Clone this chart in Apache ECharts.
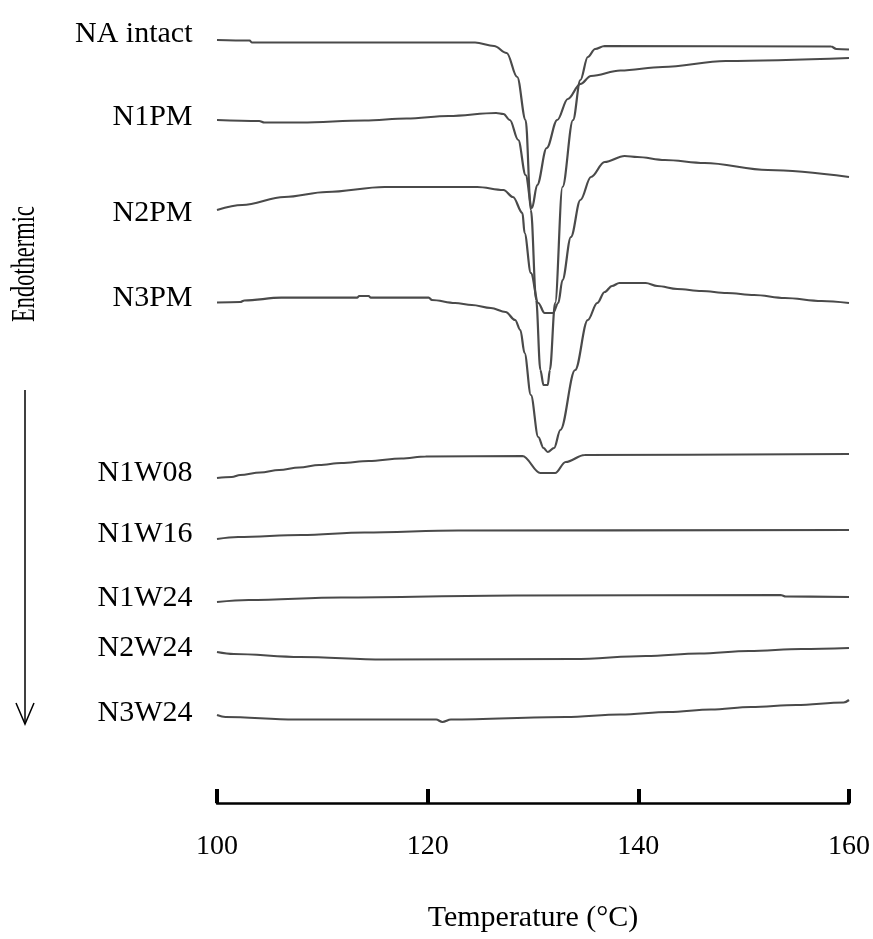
<!DOCTYPE html>
<html>
<head>
<meta charset="utf-8">
<script src="https://cdn.jsdelivr.net/npm/echarts@6/dist/echarts.min.js"></script>
<style>
html,body{margin:0;padding:0;background:#fff;overflow:hidden;}
#chart{width:873px;height:939px;}
</style>
</head>
<body>
<div id="chart"></div>
<script>
// Temperature (°C) vs offset heat-flow signal (arbitrary units, endothermic downward)
const xTicks = [100, 120, 140, 160];
const seriesNames = ['NA intact','N1PM','N2PM','N3PM','N1W08','N1W16','N1W24','N2W24','N3W24'];

const naIntact = [[100,40],[103.1,40.5],[103.3,42.5],[124.5,42.5],[126.3,46],[127.5,53],[128.5,77],[129.3,120],[129.8,210],[130.3,300],[130.7,370],[131.0,385],[131.4,385],[131.6,370],[132.1,303],[132.8,187],[133.8,120],[134.5,80],[135.2,57],[135.9,49],[136.8,46],[158.3,46.5],[158.8,49],[160,49.5]];
const n1pm = [[100,120],[104,121],[104.5,122.5],[108,122.5],[114,120.5],[118,118.5],[122,116],[126.5,113],[127.2,114],[127.8,120],[128.6,140],[129.3,175],[129.9,208],[130.4,185],[131.3,148],[132.3,120],[133.3,99],[134.5,84],[135.5,76],[138.3,70.5],[142.3,67],[148.3,61],[160,58]];
const n2pm = [[100,210],[102.4,205],[106.4,197],[110.4,192],[115.9,187],[124.7,187],[127.2,190],[128.1,197],[129.0,213],[129.2,233],[129.8,273],[130.5,303],[131.1,313],[131.9,313],[132.4,303],[132.8,280],[133.6,237],[134.5,200],[135.5,177],[136.8,162],[138.7,156],[139.9,157],[142.5,160],[146.3,163],[152.3,170],[160,177]];
const n3pm = [[100,302.5],[102.2,302],[102.6,300.5],[106.1,297.7],[113.3,297.7],[113.5,296],[114.4,296],[114.6,297.7],[120.1,297.7],[120.4,300],[122.6,303],[124.2,305],[126.0,308],[127.4,312],[128.3,320],[128.8,330],[129.2,353],[129.8,395],[130.5,437],[131.0,448],[131.4,452],[132.0,448],[132.6,430],[134.0,370],[135.2,320],[136.1,303],[136.8,292],[137.5,286],[138.2,283],[140.7,283],[141.8,286],[143.7,289],[146.0,291],[148.4,293],[151.0,295],[153.9,298],[157.4,301],[160,303]];
const n1w08 = [[100,478],[101.4,477],[102.2,475],[104.1,472.5],[105.9,470],[107.8,467.5],[109.7,465],[111.8,463],[114.4,461],[117.5,458.5],[119.8,456.5],[129.0,456],[130.7,473],[132.1,473],[133.1,462],[134.9,455],[160,454]];
const n1w16 = [[100,539],[102,537],[108,535],[114,532.5],[122.9,530.5],[160,530]];
const n1w24 = [[100,602],[103,600],[111.8,597.5],[128.3,595.5],[153.5,595],[154,596.5],[160,597]];
const n2w24 = [[100,652],[101.6,654],[107.9,657],[115.8,659.5],[133.9,659],[140.7,656],[145.8,653.5],[150.5,651],[155.5,649],[160,648]];
const n3w24 = [[100,715],[100.8,717],[107.4,719.5],[120.8,719.5],[121.4,722],[122.2,719.5],[133.1,717],[138.3,714.5],[142.9,712],[146.9,709.5],[150.7,707],[155,705],[159.5,702.5],[160,700]];

const allData = [naIntact, n1pm, n2pm, n3pm, n1w08, n1w16, n1w24, n2w24, n3w24];
const labelOffsets = [-6,-3,3,-4,-5,-5,-4,-4,-2];

const FONT = 'Liberation Serif';
const chart = echarts.init(document.getElementById('chart'), null, {renderer:'canvas'});

const series = allData.map((d, i) => ({
  name: seriesNames[i],
  type: 'line',
  data: d,
  showSymbol: false,
  smooth: 0.35,
  smoothMonotone: 'x',
  lineStyle: {color: '#4a4a4a', width: 2.2},
  silent: true,
  markPoint: {
    symbol: 'circle',
    symbolSize: 1,
    itemStyle: {color: 'transparent'},
    silent: true,
    data: [{coord: d[0]}],
    label: {
      show: true,
      position: 'left',
      distance: 24,
      offset: [0, labelOffsets[i]],
      formatter: seriesNames[i],
      fontFamily: FONT,
      fontSize: 30,
      color: '#000'
    }
  }
}));

chart.setOption({
  animation: false,
  backgroundColor: '#fff',
  grid: {left: 217, right: 20, top: 0, bottom: 136, containLabel: false},
  xAxis: {
    type: 'value',
    position: 'bottom',
    min: xTicks[0],
    max: xTicks[xTicks.length - 1],
    interval: 20,
    name: 'Temperature (°C)',
    nameLocation: 'middle',
    nameGap: 100,
    nameTextStyle: {fontFamily: FONT, fontSize: 30, color: '#000'},
    axisLine: {onZero: false, lineStyle: {color: '#000', width: 2.5}},
    axisTick: {inside: true, length: 14, lineStyle: {color: '#000', width: 4}},
    axisLabel: {fontFamily: FONT, fontSize: 28, color: '#000', margin: 30, showMinLabel: true, showMaxLabel: true},
    splitLine: {show: false}
  },
  yAxis: {
    type: 'value',
    inverse: true,
    min: 0,
    max: 803,
    show: false
  },
  graphic: [
    {type: 'text', x: 25, y: 264, rotation: Math.PI / 2, scaleX: 0.68,
     style: {text: 'Endothermic', font: '33px "Liberation Serif"', fill: '#000', textAlign: 'center', textVerticalAlign: 'middle'}},
    {type: 'line', shape: {x1: 25, y1: 390, x2: 25, y2: 724}, style: {stroke: '#000', lineWidth: 1.5}},
    {type: 'polyline', shape: {points: [[16, 703], [25, 724], [34, 703]]}, style: {stroke: '#000', lineWidth: 1.5, fill: null}}
  ],
  series: series
});
</script>
</body>
</html>
